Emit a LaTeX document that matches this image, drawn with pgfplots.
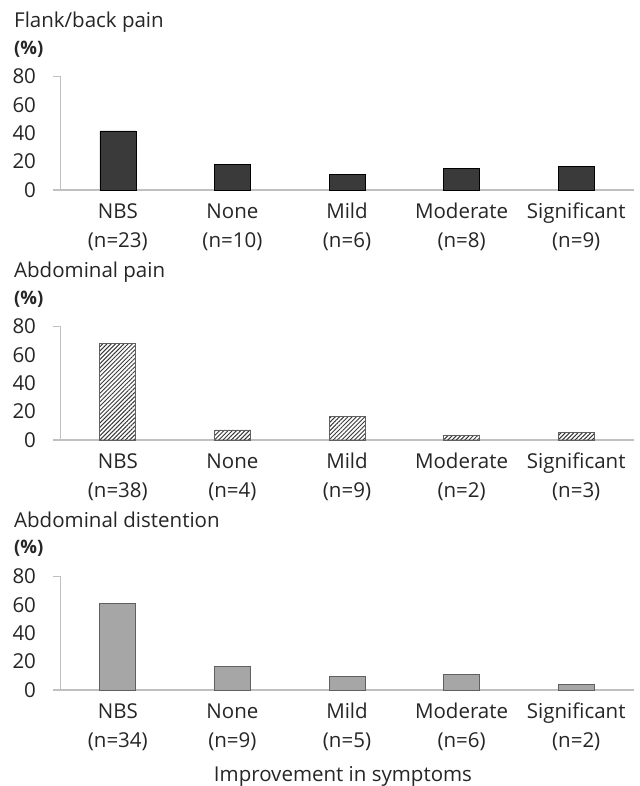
\documentclass[border=0pt]{standalone}
\usepackage{fontspec}
\setmainfont{Open Sans}
\usepackage{pgfplots}
\pgfplotsset{compat=1.18}
\usetikzlibrary{patterns.meta}
\definecolor{axgray}{HTML}{C0C0C0}
\definecolor{txt}{HTML}{262626}
\definecolor{darkbar}{HTML}{3A3A3A}
\definecolor{midg}{HTML}{A6A6A6}
\definecolor{midedge}{HTML}{606060}
\newcommand{\fs}{\fontsize{20.5}{29}\selectfont}
\pgfplotsset{
  panel/.style={
    scale only axis, width=573pt, height=113.5pt,
    xmin=-0.5, xmax=4.5, ymin=0, ymax=80,
    axis x line*=bottom, axis y line*=left,
    axis line style={axgray, line width=1.1pt},
    tick align=outside, major tick length=8pt,
    xtick={0,1,2,3,4},
    ytick={0,20,40,60,80},
    xtick style={draw=none},
    ytick style={draw=none},
    /pgf/number format/assume math mode=true,
    ticklabel style={font=\fs, text=txt},
    yticklabel style={anchor=east, xshift=-13pt},
    xticklabel style={align=center, anchor=base, yshift=-50pt, inner sep=0pt},
    clip=false,
  },
}
\begin{document}
\begin{tikzpicture}
\useasboundingbox (0,0) rectangle (639pt,786pt);
\fill[white] (0,0) rectangle (639pt,786pt);
% Panel 1
\begin{axis}[panel, at={(60.5pt,596pt)}, anchor=south west,
  xticklabels={{NBS\\(n=23)},{None\\(n=10)},{Mild\\(n=6)},{Moderate\\(n=8)},{Significant\\(n=9)}}]
\addplot[ybar, bar width=36pt, fill=darkbar, draw=black, line width=0.6pt]
  coordinates {(0,41.6) (1,18.2) (2,11.0) (3,15.2) (4,16.5)};
\draw[axgray, line width=1.1pt] (rel axis cs:0,1) -- ++(-8pt,0pt);
\draw[axgray, line width=1.1pt] (rel axis cs:0,0) -- ++(-8pt,0pt);
\end{axis}
% Panel 2
\begin{axis}[panel, at={(60.5pt,346pt)}, anchor=south west,
  xticklabels={{NBS\\(n=38)},{None\\(n=4)},{Mild\\(n=9)},{Moderate\\(n=2)},{Significant\\(n=3)}}]
\addplot[ybar, bar width=36pt, draw=midedge, line width=0.8pt,
  pattern={Lines[angle=45, distance=3pt, line width=1pt]}, pattern color=darkbar]
  coordinates {(0,68.2) (1,7.1) (2,16.5) (3,3.5) (4,5.6)};
\draw[axgray, line width=1.1pt] (rel axis cs:0,1) -- ++(-8pt,0pt);
\draw[axgray, line width=1.1pt] (rel axis cs:0,0) -- ++(-8pt,0pt);
\end{axis}
% Panel 3
\begin{axis}[panel, at={(60.5pt,96pt)}, anchor=south west,
  xticklabels={{NBS\\(n=34)},{None\\(n=9)},{Mild\\(n=5)},{Moderate\\(n=6)},{Significant\\(n=2)}}]
\addplot[ybar, bar width=36pt, fill=midg, draw=midedge, line width=0.8pt]
  coordinates {(0,60.8) (1,16.5) (2,9.4) (3,10.8) (4,3.7)};
\draw[axgray, line width=1.1pt] (rel axis cs:0,1) -- ++(-8pt,0pt);
\draw[axgray, line width=1.1pt] (rel axis cs:0,0) -- ++(-8pt,0pt);
\end{axis}
% titles
\node[anchor=base west, inner sep=0pt, text=txt, font=\fs] at (14pt,758pt) {Flank/back pain};
\node[anchor=base west, inner sep=0pt, text=txt, font=\fs] at (14pt,508.5pt) {Abdominal pain};
\node[anchor=base west, inner sep=0pt, text=txt, font=\fs] at (14pt,258.5pt) {Abdominal distention};
\node[anchor=base west, inner sep=0pt, text=txt, font=\fontsize{18.5}{22}\selectfont\bfseries] at (14pt,731pt) {(\%)};
\node[anchor=base west, inner sep=0pt, text=txt, font=\fontsize{18.5}{22}\selectfont\bfseries] at (14pt,481pt) {(\%)};
\node[anchor=base west, inner sep=0pt, text=txt, font=\fontsize{18.5}{22}\selectfont\bfseries] at (14pt,232pt) {(\%)};
\node[anchor=base, inner sep=0pt, text=txt, font=\fs] at (343pt,5pt) {Improvement in symptoms};
\end{tikzpicture}
\end{document}
